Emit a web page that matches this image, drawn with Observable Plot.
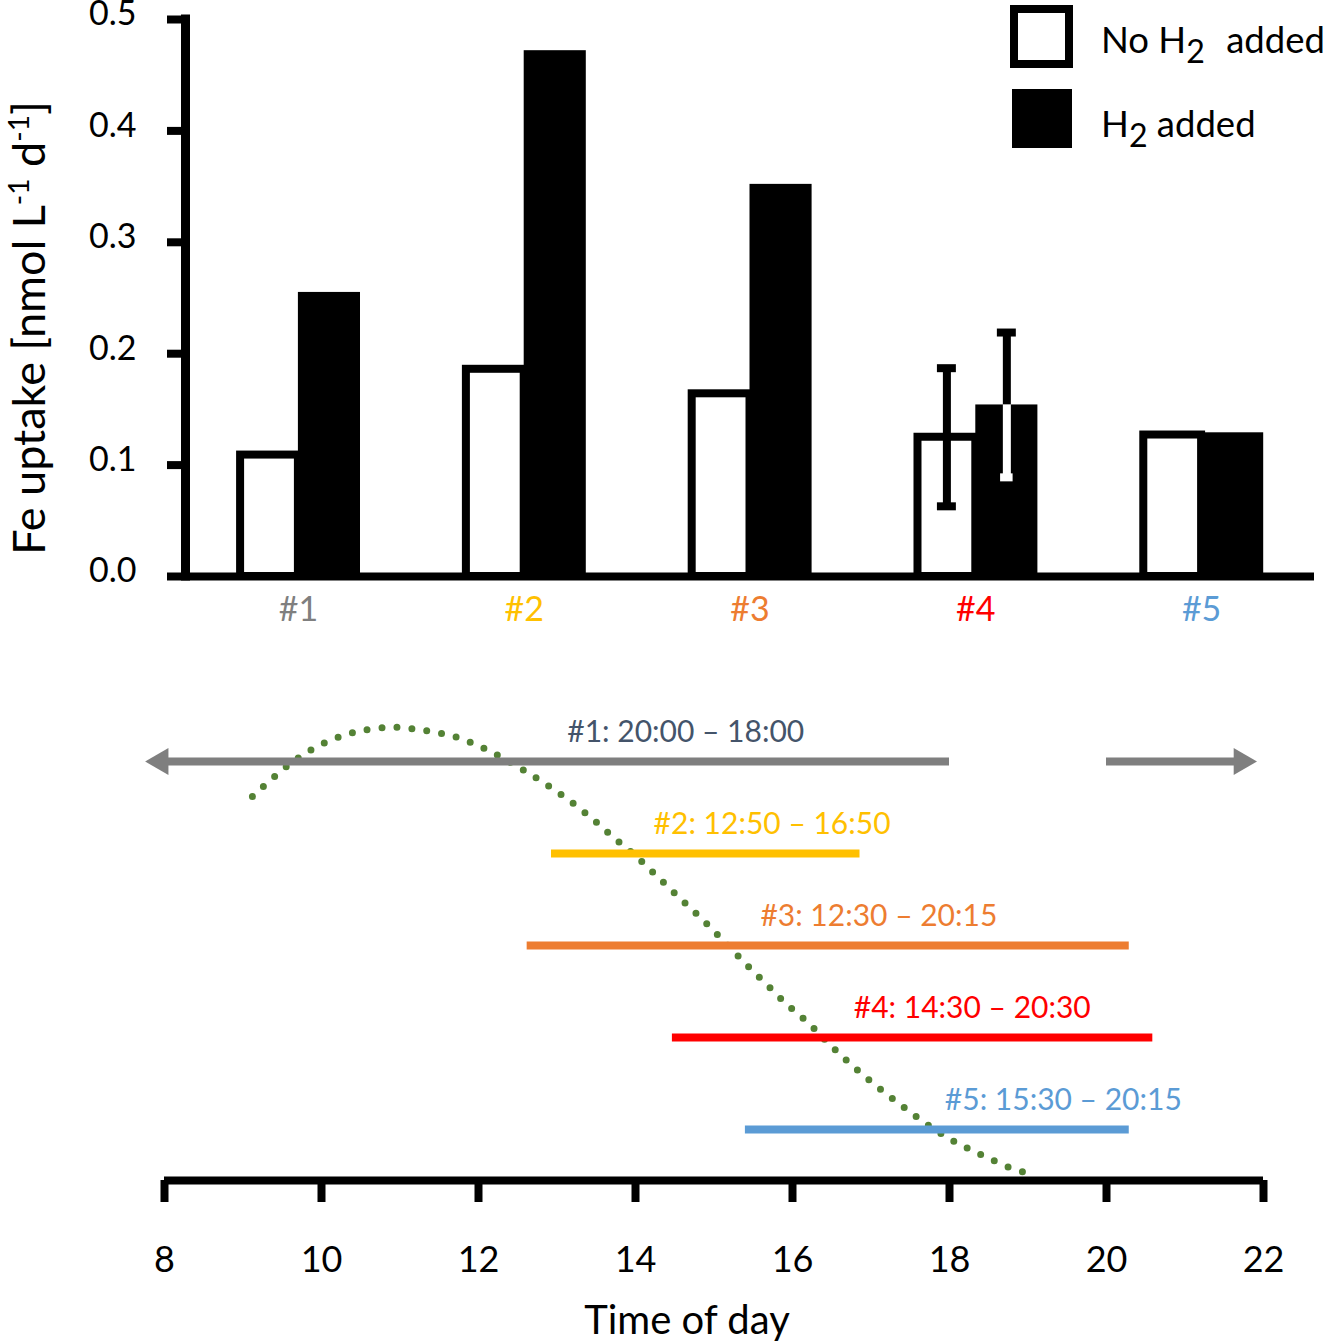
<!DOCTYPE html>
<html>
<head>
<meta charset="utf-8">
<script src="https://cdn.jsdelivr.net/npm/d3@7"></script>
<script src="https://cdn.jsdelivr.net/npm/@observablehq/plot@0.6"></script>
<style>
  html, body { margin: 0; padding: 0; background: #fff; overflow: hidden; }
  #root { position: relative; width: 1328px; height: 1343px; font-family: Lato, sans-serif; color: #000; }
  #root svg { position: absolute; left: 0; }
  .swatch { position: absolute; box-sizing: border-box; }
  .legtext { position: absolute; left: 1101px; font-size: 36.5px; line-height: 36px; white-space: nowrap; }
  .legtext .sub { position: relative; top: 10px; font-size: 0.88em; }
</style>
</head>
<body>
<div id="root">
  <div class="swatch" style="left:1010px;top:5px;width:63px;height:63px;border:8px solid #000;background:#fff;"></div>
  <div class="swatch" style="left:1012px;top:89px;width:60px;height:59px;background:#000;"></div>
  <div class="legtext" id="leg1" style="top:21px;"></div>
  <div class="legtext" id="leg2" style="top:105px;"></div>
</div>
<script>
// ---------- top panel data ----------
const categories = ["#1", "#2", "#3", "#4", "#5"];
const categoryColors = ["#7F7F7F", "#FFC000", "#ED7D31", "#FF0000", "#5B9BD5"];
const uptakeNoH2 = [0.109, 0.186, 0.164, 0.125, 0.127];
const uptakeH2 = [0.255, 0.472, 0.352, 0.154, 0.129];
const sdNoH2 = [null, null, null, 0.062, null];
const sdH2 = [null, null, null, 0.065, null];
const yTicks = [0, 0.1, 0.2, 0.3, 0.4, 0.5];
const legendLabels = [["No H", "2", " added"], ["H", "2", " added"]];

// ---------- bottom panel data ----------
const labelColors = ["#44546A", "#FFC000", "#ED7D31", "#FF0000", "#5B9BD5"];
const lineColors = ["#7F7F7F", "#FFC000", "#ED7D31", "#FF0000", "#5B9BD5"];
const startTimes = ["20:00", "12:50", "12:30", "14:30", "15:30"];
const endTimes = ["18:00", "16:50", "20:15", "20:30", "20:15"];
const startHour = [20.0, 12.93, 12.62, 14.47, 15.40];
const endHour = [18.0, 16.86, 20.29, 20.59, 20.29];
const labelHour = [14.64, 15.74, 17.10, 18.29, 19.45];
const arrowTips = [7.76, 21.91];
const hourTicks = [8, 10, 12, 14, 16, 18, 20, 22];
const lightHour = [9.12, 9.40, 9.71, 10.07, 10.45, 10.88, 11.30, 11.72, 12.10, 12.45, 12.79, 13.12, 13.43, 13.72, 14.02, 14.30, 14.57, 14.85, 15.12, 15.38, 15.65, 15.92, 16.21, 16.48, 16.76, 17.06, 17.37, 17.68, 18.02, 18.38, 18.76, 18.96];
const lightRel = [0.847, 0.891, 0.933, 0.968, 0.990, 1.000, 0.993, 0.978, 0.951, 0.918, 0.882, 0.843, 0.801, 0.757, 0.713, 0.667, 0.622, 0.576, 0.529, 0.482, 0.436, 0.390, 0.346, 0.299, 0.254, 0.210, 0.168, 0.128, 0.090, 0.059, 0.029, 0.018];

const yTitle = "Fe uptake [nmol L-1 d-1]";
const xTitle = "Time of day";

// ---------- build top panel ----------
const OPEN_W = 0.256, FILL_W = 0.275, CAP = 0.042;
const bars = categories.map((c, i) => ({
  cat: c, i: i + 1, no: uptakeNoH2[i], h2: uptakeH2[i],
  sdNo: sdNoH2[i], sdH: sdH2[i], color: categoryColors[i]
}));
const errs = [];
bars.forEach(b => {
  if (b.sdNo != null) errs.push({x: b.i - OPEN_W / 2, v: b.no, sd: b.sdNo, inner: "black", cap: CAP});
  if (b.sdH != null) errs.push({x: b.i + FILL_W / 2, v: b.h2, sd: b.sdH, inner: "white", cap: CAP * 0.66});
});

const topPlot = Plot.plot({
  width: 1328, height: 650,
  marginLeft: 185, marginRight: 14, marginTop: 19, marginBottom: 74,
  style: {fontFamily: "Lato, sans-serif", background: "transparent", color: "black", overflow: "visible"},
  x: {domain: [0.5, 5.5], axis: null},
  y: {domain: [0, 0.5], axis: null},
  color: {type: "identity"},
  marks: [
    Plot.rectY(bars, {x1: d => d.i - OPEN_W, x2: d => d.i, y1: 0, y2: "no", fill: "white", stroke: "black", strokeWidth: 8}),
    Plot.rectY(bars, {x1: d => d.i, x2: d => d.i + FILL_W, y1: 0, y2: "h2", fill: "black"}),
    Plot.ruleX(errs, {x: "x", y1: "v", y2: d => d.v + d.sd, stroke: "black", strokeWidth: 8}),
    Plot.ruleX(errs, {x: "x", y1: d => d.v - d.sd, y2: "v", stroke: "inner", strokeWidth: 8}),
    Plot.ruleY(errs, {y: d => d.v + d.sd, x1: d => d.x - CAP, x2: d => d.x + CAP, stroke: "black", strokeWidth: 8}),
    Plot.ruleY(errs, {y: d => d.v - d.sd, x1: d => d.x - d.cap, x2: d => d.x + d.cap, stroke: "inner", strokeWidth: 8}),
    Plot.ruleY([0], {strokeWidth: 8, stroke: "black"}),
    Plot.ruleX([0.5], {y1: 0, y2: 0.5, strokeWidth: 9, stroke: "black", strokeLinecap: "square"}),
    // tick marks
    Plot.axisY({ticks: yTicks, tickFormat: () => "", tickSize: 18, strokeWidth: 8, label: null, stroke: "black"}),
    // tick labels (sit slightly above their ticks, as in the original)
    Plot.axisY({ticks: yTicks, tickFormat: d3.format(".1f"), tickSize: 0, tickPadding: 49, fontSize: 34, label: null, fill: "black", dy: -5}),
    Plot.text(bars, {x: "i", y: 0, text: "cat", fill: "color", dy: 44, lineAnchor: "bottom", fontSize: 34}),
    Plot.text([yTitle], {frameAnchor: "left", rotate: -90, dx: -140.5, dy: 30, textAnchor: "middle", lineAnchor: "bottom", fontSize: 45, fill: "black"})
  ]
});
topPlot.style.top = "0px";

// rich superscripts in y title
(function () {
  const t = [...topPlot.querySelectorAll("text")].find(e => e.textContent === yTitle);
  if (!t) return;
  while (t.firstChild) t.removeChild(t.firstChild);
  const NS = "http://www.w3.org/2000/svg";
  const parts = [["Fe uptake [nmol L", 0], ["-1", 1], [" d", 0], ["-1", 1], ["]", 0]];
  parts.forEach(([s, sup], k) => {
    const ts = document.createElementNS(NS, "tspan");
    ts.textContent = s;
    if (sup) { ts.setAttribute("dy", "-16"); ts.setAttribute("font-size", "28"); }
    else if (k > 0) { ts.setAttribute("dy", "16"); }
    t.appendChild(ts);
  });
})();

// ---------- build bottom panel ----------
const rows = categories.map((c, i) => ({
  cat: c, start: startHour[i], end: endHour[i], labelX: labelHour[i],
  label: `${c}: ${startTimes[i]} \u2013 ${endTimes[i]}`,
  color: lineColors[i], labelColor: labelColors[i]
}));
const straight = rows.filter(r => r.start < r.end);
const wrapped = rows.filter(r => r.start > r.end);
const wrapLeft = wrapped.map(r => ({...r, tip: arrowTips[0]}));
const wrapRight = wrapped.map(r => ({...r, tip: arrowTips[1]}));
const light = lightHour.map((h, i) => ({h, v: lightRel[i]}));

const common = {
  width: 1328, height: 693, marginLeft: 164, marginRight: 65,
  style: {fontFamily: "Lato, sans-serif", background: "transparent", color: "black", overflow: "visible"}
};

const curvePlot = Plot.plot({
  ...common, marginTop: 76.7, marginBottom: 163,
  x: {domain: [8, 22], axis: null},
  y: {domain: [0, 1], axis: null},
  marks: [
    Plot.line(light, {x: "h", y: "v", curve: "catmull-rom", stroke: "#548235", strokeWidth: 7, strokeDasharray: "0 15", strokeLinecap: "round"}),
    Plot.ruleY([0], {strokeWidth: 8, stroke: "black"}),
    Plot.axisX({ticks: hourTicks, tickFormat: d3.format("d"), tickSize: 22, tickPadding: 44, strokeWidth: 8, fontSize: 36, label: null, fill: "black", stroke: "black"}),
    Plot.text([xTitle], {frameAnchor: "bottom", dy: 153, dx: -27, lineAnchor: "bottom", fontSize: 40, fill: "black"})
  ]
});
curvePlot.style.top = "650px";

const linePlot = Plot.plot({
  ...common, marginTop: 0, marginBottom: 0,
  x: {domain: [8, 22], axis: null},
  y: {type: "point", domain: categories, range: [110, 479], padding: 0, axis: null},
  color: {type: "identity"},
  marks: [
    Plot.ruleY(straight, {y: "cat", x1: "start", x2: "end", stroke: "color", strokeWidth: 8}),
    Plot.ruleY(wrapLeft, {y: "cat", x1: "tip", x2: "end", insetLeft: 12, stroke: "color", strokeWidth: 8}),
    Plot.ruleY(wrapRight, {y: "cat", x1: "start", x2: "tip", insetRight: 12, stroke: "color", strokeWidth: 8}),
    Plot.dot(wrapLeft, {x: "tip", y: "cat", symbol: "triangle", r: 10, rotate: -90, dx: 15, fill: "color", stroke: null}),
    Plot.dot(wrapRight, {x: "tip", y: "cat", symbol: "triangle", r: 10, rotate: 90, dx: -15, fill: "color", stroke: null}),
    Plot.text(rows, {x: "labelX", y: "cat", text: "label", fill: "labelColor", dy: -20, lineAnchor: "bottom", fontSize: 30})
  ]
});
linePlot.style.top = "650px";

const root = document.getElementById("root");
root.appendChild(topPlot);
root.appendChild(curvePlot);
root.appendChild(linePlot);

// legend (HTML, over the top panel)
[["leg1", legendLabels[0], 12], ["leg2", legendLabels[1], 0]].forEach(([id, [a, s, b], gap]) => {
  const el = document.getElementById(id);
  el.appendChild(document.createTextNode(a));
  const sp = document.createElement("span"); sp.className = "sub"; sp.textContent = s;
  sp.style.marginRight = gap + "px";
  el.appendChild(sp);
  el.appendChild(document.createTextNode(b));
});
</script>
</body>
</html>
